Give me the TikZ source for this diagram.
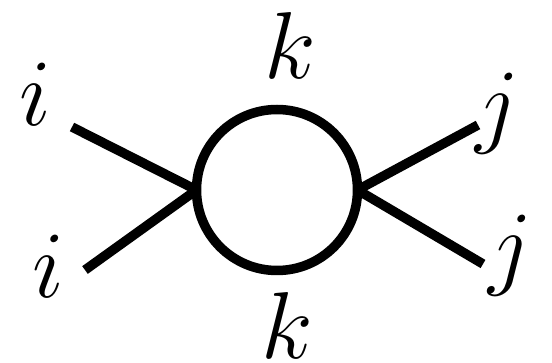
\documentclass[tikz,border=0pt]{standalone}
\usepackage{amsmath}
\usepackage{tikz}
\usetikzlibrary{positioning,calc}
\tikzset{
  bubble/.style={circle,draw,line width=4.75pt,minimum size=80.5pt,inner sep=0pt,outer sep=0pt},
  leg/.style={line width=4.75pt},
  lab/.style={inner sep=0pt,font=\Huge,scale=1.91,transform shape},
}

\begin{document}
\begin{tikzpicture}[x=0.5pt,y=-0.5pt]
  \useasboundingbox (0,0) rectangle (552,363);
  % one-loop bubble with two external legs on each side
  \node[bubble] (c) at (277,190){};
  \coordinate (li) at (72,127);
  \coordinate (lo) at (85,270);
  \coordinate (ri) at (478,125);
  \coordinate (ro) at (483,264);
  \draw[leg] (li) -- (c.west);
  \draw[leg] (lo) -- (c.west);
  \draw[leg] (ri) -- (c.east);
  \draw[leg] (ro) -- (c.east);
  \node[lab] (i1) at (35,94){$i$};
  \node[lab] (i2) at (48,266){$i$};
  \node[lab] (k1) at (290,46){$k$};
  \node[lab] (k2) at (287,325){$k$};
  \node[lab] (j1) at (497,114){$j$};
  \node[lab] (j2) at (510,256){$j$};
\end{tikzpicture}
\end{document}
